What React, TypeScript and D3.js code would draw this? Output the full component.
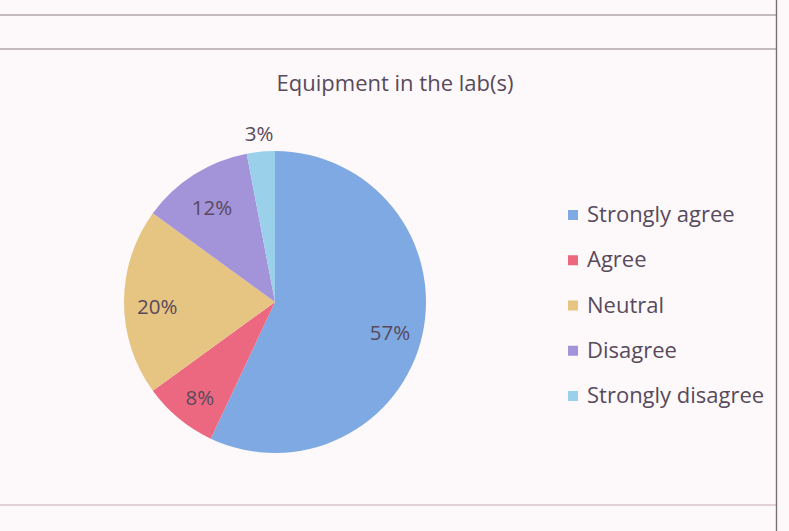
import React from "react";
import * as d3 from "d3";

const categories = ["Strongly agree", "Agree", "Neutral", "Disagree", "Strongly disagree"];
const values = [57, 8, 20, 12, 3];
const colors = ["#7fa9e2", "#ec6880", "#e6c482", "#a393d8", "#9ad0ea"];
const title = "Equipment in the lab(s)";

const W = 789;
const H = 531;
const FONT = "'Open Sans', 'DejaVu Sans', sans-serif";
const TEXT = "#584a5c";

export default function App() {
  const cx = 275;
  const cy = 302;
  const r = 151;
  const pie = d3.pie<number>().sort(null).value((d) => d)(values);
  const arc = d3.arc<d3.PieArcDatum<number>>().innerRadius(0).outerRadius(r);
  const labelArc = d3.arc<d3.PieArcDatum<number>>().innerRadius(r * 0.78).outerRadius(r * 0.78);
  const outArc = d3.arc<d3.PieArcDatum<number>>().innerRadius(r * 1.12).outerRadius(r * 1.12);
  const legendY = d3.scalePoint<string>().domain(categories).range([215, 396]);

  return (
    <div style={{ position: "absolute", left: 0, top: 0 }}>
      <svg width={W} height={H} style={{ display: "block", background: "#fdf9fb" }}>
        <line x1={0} x2={777} y1={15} y2={15} stroke="#8a7f86" strokeWidth={1.2} />
        <line x1={0} x2={777} y1={49} y2={49} stroke="#8a7f86" strokeWidth={1.2} />
        <line x1={0} x2={777} y1={505} y2={505} stroke="#c9a9b6" strokeWidth={1} />
        <line x1={776.5} x2={776.5} y1={0} y2={H} stroke="#7a7078" strokeWidth={1.4} />
        <text x={395} y={91} textAnchor="middle" fontFamily={FONT} fontSize={22} fill={TEXT}>
          {title}
        </text>
        <g transform={`translate(${cx},${cy})`}>
          {pie.map((p, i) => (
            <path key={i} d={arc(p) || ""} fill={colors[i]} />
          ))}
          {pie.map((p, i) => {
            const outside = i === 4;
            const [x, y] = outside ? outArc.centroid(p) : labelArc.centroid(p);
            return (
              <text key={i} x={x} y={y} dy={outside ? "0.35em" : "0.6em"} textAnchor="middle" fontFamily={FONT} fontSize={20.5} fill={TEXT}>
                {values[i]}%
              </text>
            );
          })}
        </g>
        {categories.map((c, i) => (
          <g key={c} transform={`translate(568,${legendY(c)})`}>
            <rect x={0} y={-5} width={10} height={10} fill={colors[i]} />
            <text x={19} y={7} fontFamily={FONT} fontSize={22} fill={TEXT}>
              {c}
            </text>
          </g>
        ))}
      </svg>
    </div>
  );
}
